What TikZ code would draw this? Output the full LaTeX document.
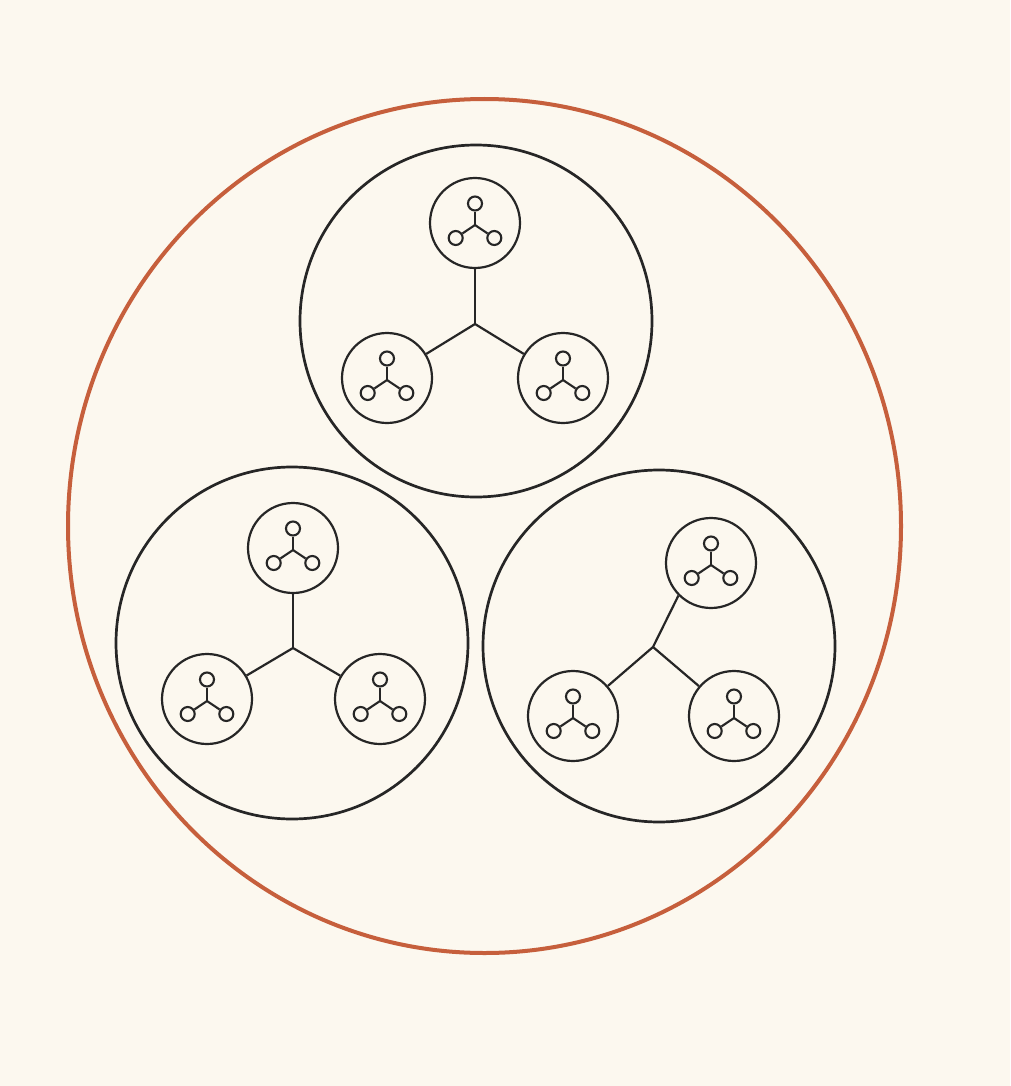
\documentclass[tikz,border=0pt]{standalone}
\usetikzlibrary{shapes.geometric}
\definecolor{bg}{HTML}{FCF8EF}
\definecolor{rust}{HTML}{C65F3C}
\definecolor{ink}{HTML}{262626}
\tikzset{
  outer/.style={ellipse, draw=rust, line width=4pt, inner sep=0pt},
  big/.style={circle, draw=ink, line width=2.7pt, inner sep=0pt, minimum size=352pt},
  mid/.style={circle, draw=ink, line width=2.2pt, inner sep=0pt, minimum size=90pt},
  dot/.style={circle, draw=ink, line width=2.1pt, inner sep=0pt, minimum size=14pt},
  link/.style={draw=ink, line width=2.2pt},
  arm/.style={draw=ink, line width=2.1pt},
}
\newcommand{\trio}[3]{%
  \begin{scope}[shift={(#2,#3)}]
    \node[mid] (#1) at (0,0) {};
    \node[dot] (#1t) at (0,-19.5) {};
    \node[dot] (#1l) at (-19.3,15) {};
    \node[dot] (#1r) at (19.3,15) {};
    \coordinate (#1j) at (0,2);
    \draw[arm] (#1j) -- (#1t);
    \draw[arm] (#1j) -- (#1l);
    \draw[arm] (#1j) -- (#1r);
  \end{scope}}
\begin{document}
\begin{tikzpicture}[x=1pt,y=-1pt]
  \fill[bg] (0,0) rectangle (1010,1086);
  \useasboundingbox (0,0) rectangle (1010,1086);
  \node[outer, minimum width=833pt, minimum height=854pt] (world) at (484.5,526) {};
  % three big circles
  \node[big] (A) at (476,321) {};
  \node[big] (B) at (292,643) {};
  \node[big] (C) at (659,646) {};
  % top cluster
  \trio{At}{475}{223}
  \trio{Al}{387}{378}
  \trio{Ar}{563}{378}
  \coordinate (Aj) at (475,324);
  \draw[link] (Aj) -- (At);
  \draw[link] (Aj) -- (Al);
  \draw[link] (Aj) -- (Ar);
  % bottom-left cluster
  \trio{Bt}{293}{548}
  \trio{Bl}{207}{699}
  \trio{Br}{380}{699}
  \coordinate (Bj) at (293,648);
  \draw[link] (Bj) -- (Bt);
  \draw[link] (Bj) -- (Bl);
  \draw[link] (Bj) -- (Br);
  % bottom-right cluster
  \trio{Ct}{711}{563}
  \trio{Cl}{573}{716}
  \trio{Cr}{734}{716}
  \coordinate (Cj) at (653,647);
  \draw[link] (Cj) -- (Ct.225);
  \draw[link] (Cj) -- (Cl);
  \draw[link] (Cj) -- (Cr);
\end{tikzpicture}
\end{document}
